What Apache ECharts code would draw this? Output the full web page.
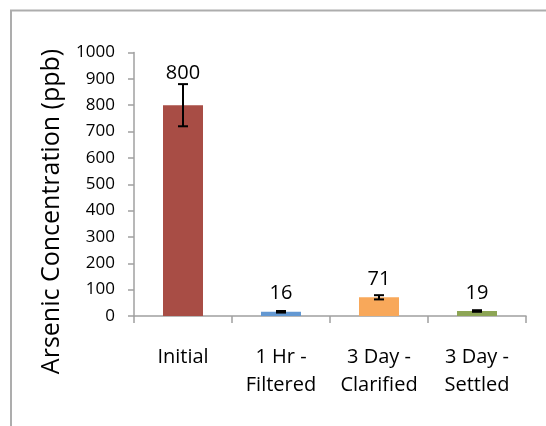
<!DOCTYPE html>
<html>
<head>
<meta charset="utf-8">
<script src="https://cdn.jsdelivr.net/npm/echarts@6/dist/echarts.min.js"></script>
<style>
  html, body { margin: 0; padding: 0; background: #ffffff; }
  #chart { width: 546px; height: 426px; }
</style>
</head>
<body>
<div id="chart"></div>
<script>
// Arsenic concentration per treatment stage, with error bars
const categories = ['Initial', '1 Hr - Filtered', '3 Day - Clarified', '3 Day - Settled'];
const concentration = [800, 16, 71, 19];
const errorAmount = [80, 3, 8, 3];
const yTicks = [0, 100, 200, 300, 400, 500, 600, 700, 800, 900, 1000];

// Presentation
const barColors = ['#A84D45', '#6398D2', '#F8A85A', '#8DA555'];
const labelGap = [22, 8, 8, 8];
const FONT = '"Open Sans", "Liberation Sans", sans-serif';
const AXIS_COLOR = '#A0A0A0';

const chart = echarts.init(document.getElementById('chart'), null, { renderer: 'canvas' });

const barData = concentration.map((v, i) => ({
  value: v,
  itemStyle: { color: barColors[i] },
  label: { distance: labelGap[i] }
}));

const errorData = concentration.map((v, i) => [i, v - errorAmount[i], v + errorAmount[i]]);

const option = {
  animation: false,
  backgroundColor: '#ffffff',
  grid: { left: 134, right: 20, top: 52.5, bottom: 110, containLabel: false },
  graphic: [
    {
      type: 'rect',
      shape: { x: 11, y: 10.5, width: 600, height: 500 },
      style: { fill: 'none', stroke: '#ADADAD', lineWidth: 2 },
      silent: true
    },
    {
      type: 'text',
      x: 51.5,
      y: 211.5,
      rotation: Math.PI / 2,
      style: {
        text: 'Arsenic Concentration (ppb)',
        font: '25px ' + FONT,
        fill: '#000000',
        align: 'center',
        verticalAlign: 'middle'
      },
      silent: true
    }
  ],
  xAxis: {
    type: 'category',
    data: categories,
    axisLine: { show: true, lineStyle: { color: AXIS_COLOR, width: 1.5 } },
    axisTick: { show: true, alignWithLabel: false, length: 7, lineStyle: { color: AXIS_COLOR, width: 1.5 } },
    axisLabel: {
      color: '#000000',
      fontFamily: FONT,
      fontSize: 20,
      lineHeight: 28,
      margin: 27,
      interval: 0,
      formatter: (s) => s.replace(' - ', ' -\n')
    },
    splitLine: { show: false }
  },
  yAxis: {
    type: 'value',
    min: yTicks[0],
    max: yTicks[yTicks.length - 1],
    interval: yTicks[1] - yTicks[0],
    axisLine: { show: true, lineStyle: { color: AXIS_COLOR, width: 1.5 } },
    axisTick: { show: true, length: 6, lineStyle: { color: AXIS_COLOR, width: 1.5 } },
    axisLabel: {
      color: '#000000',
      fontFamily: FONT,
      fontSize: 17,
      margin: 19,
      formatter: (v) => String(v)
    },
    splitLine: { show: false }
  },
  series: [
    {
      type: 'bar',
      data: barData,
      barWidth: 40,
      label: {
        show: true,
        position: 'top',
        color: '#000000',
        fontFamily: FONT,
        fontSize: 20
      },
      z: 2
    },
    {
      type: 'custom',
      data: errorData,
      z: 5,
      renderItem: (params, api) => {
        const x = api.value(0);
        const lo = api.coord([x, api.value(1)]);
        const hi = api.coord([x, api.value(2)]);
        const cap = 5;
        const style = { stroke: '#000000', lineWidth: 2 };
        return {
          type: 'group',
          children: [
            { type: 'line', shape: { x1: lo[0], y1: lo[1], x2: hi[0], y2: hi[1] }, style },
            { type: 'line', shape: { x1: hi[0] - cap, y1: hi[1], x2: hi[0] + cap, y2: hi[1] }, style },
            { type: 'line', shape: { x1: lo[0] - cap, y1: lo[1], x2: lo[0] + cap, y2: lo[1] }, style }
          ]
        };
      }
    }
  ]
};

chart.setOption(option);
</script>
</body>
</html>
